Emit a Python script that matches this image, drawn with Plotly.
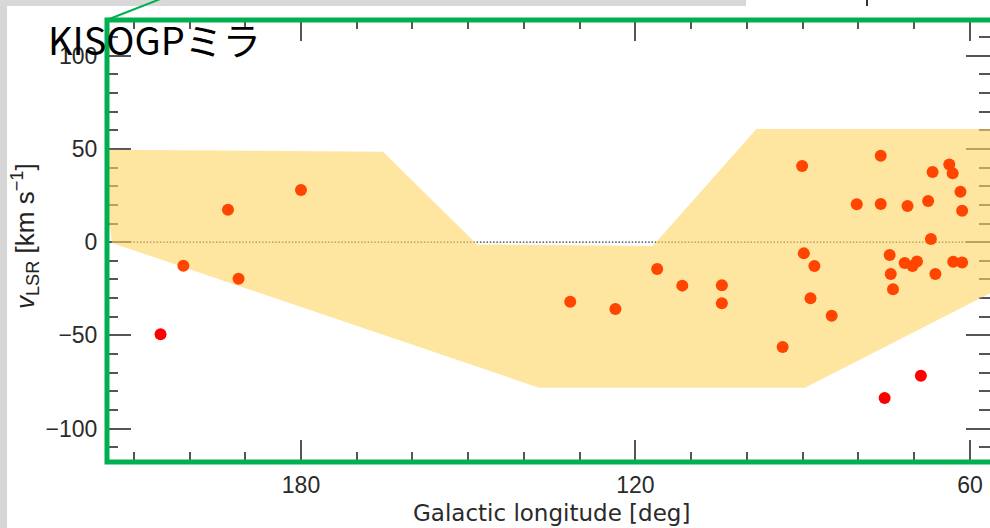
import plotly.graph_objects as go

# Galactic longitude / LSR velocity of the sources
lon_orange = [201.1, 193.1, 191.2, 180.0, 131.7, 123.6, 116.1, 111.6, 104.5, 104.5,
              93.6, 90.1, 89.8, 87.9, 88.6, 84.8, 80.3, 76.0, 76.0, 74.4,
              74.2, 73.8, 71.7, 71.2, 70.3, 69.5, 67.5, 67.0, 66.7, 66.2,
              63.7, 63.1, 63.0, 61.7, 61.4, 61.4]
vel_orange = [-12.6, 17.4, -19.6, 28.0, -31.9, -35.8, -14.4, -23.3, -23.1, -32.8,
              -56.2, 40.9, -6.0, -12.8, -30.1, -39.4, 20.3, 46.4, 20.5, -6.9,
              -17.1, -25.3, -11.2, 19.4, -12.8, -10.3, 22.1, 1.7, 37.6, -17.1,
              41.6, 36.9, -10.5, 27.1, 16.9, -10.9]

lon_red = [205.2, 75.3, 68.8]
vel_red = [-49.4, -83.5, -71.6]

# Outline of the allowed velocity band
band_lon = [216.0, 165.3, 148.4, 116.9, 98.3, 50.0, 50.0, 89.6, 137.3, 213.9]
band_vel = [49.6, 48.5, -1.2, -2.0, 60.7, 60.7, -17.6, -78.0, -78.0, -0.4]

x_range = [214.8, 56.4]
y_range = [-116.8, 118.6]

W, H = 990, 528
ML, MR, MT, MB = 107, 0, 21, 68
PW, PH = W - ML - MR, H - MT - MB


def px(x):
    return (x - ML) / PW


def py(y):
    return (H - MB - y) / PH


fig = go.Figure()

fig.add_trace(go.Scatter(
    x=band_lon, y=band_vel, mode="lines", fill="toself",
    fillcolor="rgba(253,212,97,0.6)", line=dict(width=0),
    hoverinfo="skip", showlegend=False))

fig.add_trace(go.Scatter(
    x=lon_orange, y=vel_orange, mode="markers",
    marker=dict(size=12, color="#ff4500", line=dict(width=0)),
    showlegend=False))

fig.add_trace(go.Scatter(
    x=lon_red, y=vel_red, mode="markers",
    marker=dict(size=12, color="#ff0000", line=dict(width=0)),
    showlegend=False))

tick_font = dict(family="Liberation Sans, Arial, sans-serif", size=23, color="#2a2a2a")

fig.update_xaxes(
    range=x_range, tick0=0, dtick=60, ticks="inside", ticklen=20, tickwidth=1.5,
    tickcolor="#555", mirror="ticks", showline=True, linecolor="#555",
    showgrid=False, zeroline=False, tickfont=tick_font, ticklabelstandoff=4,
    minor=dict(tick0=0, dtick=10, ticks="inside", ticklen=8, tickwidth=1.5,
               tickcolor="#555", showgrid=False),
    layer="below traces")

fig.update_yaxes(
    range=y_range, tick0=0, dtick=50, ticks="inside", ticklen=24, tickwidth=1.5,
    tickcolor="#555", mirror="ticks", showline=True, linecolor="#555",
    showgrid=False, zeroline=False, tickfont=tick_font, ticklabelstandoff=4,
    minor=dict(tick0=0, dtick=10, ticks="inside", ticklen=11, tickwidth=1.5,
               tickcolor="#555", showgrid=False),
    layer="below traces")

shapes = [
    # page background strips
    dict(type="rect", xref="paper", yref="paper", x0=px(0), x1=px(7), y0=py(H), y1=py(0),
         fillcolor="#d6d6d6", line=dict(width=0), layer="below"),
    dict(type="rect", xref="paper", yref="paper", x0=px(0), x1=px(746), y0=py(6), y1=py(0),
         fillcolor="#d8d8d8", line=dict(width=0), layer="below"),
    dict(type="line", xref="paper", yref="paper", x0=px(867), x1=px(867), y0=py(6), y1=py(0),
         line=dict(color="#333", width=2), layer="above"),
    # dotted zero-velocity line
    dict(type="line", xref="paper", yref="y", x0=0, x1=1, y0=0, y1=0,
         line=dict(color="#333", width=1.3, dash="1.5px,1.8px"), layer="below"),
    # green frame and pointer line
    dict(type="rect", xref="paper", yref="paper", x0=px(107), x1=px(1010), y0=py(462), y1=py(20),
         line=dict(color="#00b050", width=5), fillcolor="rgba(0,0,0,0)", layer="above"),
    dict(type="line", xref="paper", yref="paper", x0=px(108), x1=px(163), y0=py(19.5), y1=py(-2),
         line=dict(color="#00b050", width=2), layer="above"),
]

annotations = [
    dict(text="<i>v</i><sub>LSR</sub> [km s<sup>−1</sup>]", xref="paper", yref="paper",
         x=px(25), y=py(236), xanchor="center", yanchor="middle", textangle=-90,
         showarrow=False, font=dict(family="Liberation Sans, Arial, sans-serif", size=26, color="#222")),
    dict(text="Galactic longitude [deg]", xref="paper", yref="paper",
         x=px(551), y=py(513), xanchor="center", yanchor="middle",
         showarrow=False, font=dict(family="DejaVu Sans, sans-serif", size=23, color="#2a2a2a")),
    dict(text="KISOGPミラ", xref="paper", yref="paper",
         x=px(46), y=py(39), xanchor="left", yanchor="middle",
         showarrow=False, font=dict(family="Noto Sans CJK JP", size=38, color="#000")),
]

fig.update_layout(
    width=W, height=H, autosize=False,
    margin=dict(l=ML, r=MR, t=MT, b=MB, pad=0),
    paper_bgcolor="white", plot_bgcolor="white",
    shapes=shapes, annotations=annotations, showlegend=False)

fig.write_html("out.html")
